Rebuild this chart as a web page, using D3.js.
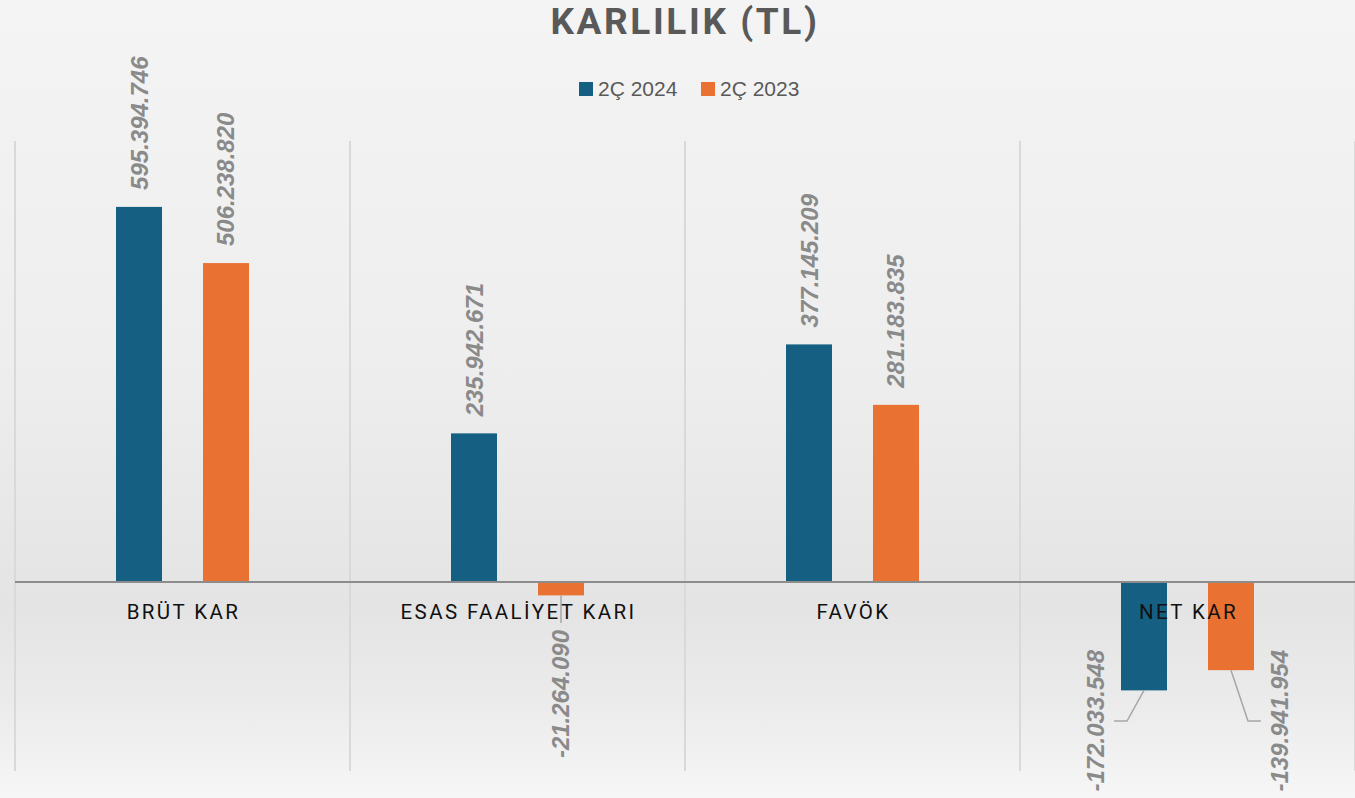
<!DOCTYPE html>
<html><head><meta charset="utf-8">
<script src="https://cdn.jsdelivr.net/npm/d3@7"></script>
<style>html,body{margin:0;padding:0;overflow:hidden;}svg{display:block;}</style>
</head><body>
<script>
const categories = ["BRÜT KAR", "ESAS FAALİYET KARI", "FAVÖK", "NET KAR"];
const seriesNames = ["2Ç 2024", "2Ç 2023"];
const values2024 = [595394746, 235942671, 377145209, -172033548];
const values2023 = [506238820, -21264090, 281183835, -139941954];
const colors = ["#156082", "#E97132"];
const title = "KARLILIK (TL)";
const yDomain = [-300000000, 700000000];

const W = 1355, H = 798;
const svg = d3.select("body").append("svg").attr("width", W).attr("height", H);
const defs = svg.append("defs");
const grad = defs.append("linearGradient").attr("id","bg").attr("x1",0).attr("y1",0).attr("x2",0).attr("y2",1);
[[0,"#f4f4f4"],[0.45,"#eeeeee"],[0.76,"#e4e4e4"],[0.88,"#ebebeb"],[1,"#f6f6f6"]].forEach(([o,c])=>grad.append("stop").attr("offset",o).attr("stop-color",c));
svg.append("rect").attr("width",W).attr("height",H).attr("fill","url(#bg)");

const x0 = d3.scaleBand().domain(categories).range([15, 1355]).paddingInner(0).paddingOuter(0);
const cw = x0.bandwidth();
const x1 = d3.scaleBand().domain(seriesNames).range([cw*0.3015, cw*0.6985]).paddingInner(41/87).paddingOuter(0);
const y = d3.scaleLinear().domain(yDomain).range([771, 141]);

const data = seriesNames.map((s,i)=>({name:s, color:colors[i], values:(i===0?values2024:values2023)}));
const fmt = v => d3.format(",")(v).replace(/,/g, ".").replace(/\u2212/g, "-");

// vertical gridlines
const gl = svg.append("g");
categories.forEach((c)=>{
  gl.append("line").attr("x1",x0(c)).attr("x2",x0(c)).attr("y1",y(yDomain[1])).attr("y2",y(yDomain[0]))
    .attr("stroke","#d9d9d9").attr("stroke-width",2);
});
gl.append("line").attr("x1",x0.range()[1]).attr("x2",x0.range()[1]).attr("y1",y(yDomain[1])).attr("y2",y(yDomain[0]))
    .attr("stroke","#d9d9d9").attr("stroke-width",2);

// bars
data.forEach(s=>{
  svg.append("g").selectAll("rect").data(categories.map((c,i)=>({c, v:s.values[i]}))).join("rect")
    .attr("x", d=>x0(d.c)+x1(s.name))
    .attr("width", x1.bandwidth())
    .attr("y", d=>Math.min(y(d.v), y(0)))
    .attr("height", d=>Math.abs(y(d.v)-y(0)))
    .attr("fill", s.color);
});

// zero line
svg.append("line").attr("x1",x0.range()[0]).attr("x2",x0.range()[1]).attr("y1",y(0)).attr("y2",y(0))
  .attr("stroke","#8c8c8c").attr("stroke-width",2);

// category labels
svg.append("g").selectAll("text").data(categories).join("text")
  .attr("x", c=>x0(c)+cw/2+1).attr("y", y(0)+37)
  .attr("text-anchor","middle")
  .attr("font-family","Roboto, 'Liberation Sans', sans-serif")
  .attr("font-size",20.5).attr("letter-spacing","2.4px").attr("fill","#111")
  .text(c=>c);

// data labels
const lblColor = "#8a8a8a";
const lblG = svg.append("g").attr("font-family","'Liberation Sans', Arial, sans-serif")
  .attr("font-size",24).attr("font-weight","bold").attr("font-style","italic").attr("fill",lblColor);
data.forEach((s,si)=>{
  categories.forEach((c,i)=>{
    const v = s.values[i];
    const cx = x0(c)+x1(s.name)+x1.bandwidth()/2;
    if (v >= 0) {
      lblG.append("text").attr("transform",`translate(${cx},${y(v)-17}) rotate(-90)`)
        .attr("text-anchor","start").attr("dominant-baseline","central").text(fmt(v));
    } else if (i === 1) {
      const ly = y(0)+48;
      svg.append("line").attr("x1",cx).attr("x2",cx).attr("y1",y(v)).attr("y2",ly-7)
        .attr("stroke","#a6a6a6").attr("stroke-width",1.5);
      lblG.append("text").attr("transform",`translate(${cx},${ly}) rotate(-90)`)
        .attr("text-anchor","end").attr("dominant-baseline","central").text(fmt(v));
    } else {
      const dir = si===0 ? -1 : 1;
      const lx = cx + dir*49;
      const ly = y(0)+68;
      const ey = y(0)+139;
      svg.append("polyline")
        .attr("points", `${cx},${y(v)} ${lx - dir*32},${ey} ${lx - dir*19},${ey}`)
        .attr("fill","none").attr("stroke","#a6a6a6").attr("stroke-width",1.5);
      lblG.append("text").attr("transform",`translate(${lx},${ly}) rotate(-90)`)
        .attr("text-anchor","end").attr("dominant-baseline","central").text(fmt(v));
    }
  });
});

// title
svg.append("text").attr("x",685).attr("y",34).attr("text-anchor","middle")
  .attr("font-family","Roboto, 'Liberation Sans', sans-serif").attr("font-weight","bold")
  .attr("font-size",37).attr("letter-spacing","2.6px").attr("fill","#595959").text(title);

// legend
const leg = svg.append("g");
const legX = [579, 701];
data.forEach((s,i)=>{
  leg.append("rect").attr("x",legX[i]).attr("y",82).attr("width",14).attr("height",14).attr("fill",s.color);
  leg.append("text").attr("x",legX[i]+19).attr("y",96).attr("font-family","'Liberation Sans', Arial, sans-serif")
    .attr("font-size",21).attr("fill","#595959").text(s.name);
});
</script>
</body></html>
